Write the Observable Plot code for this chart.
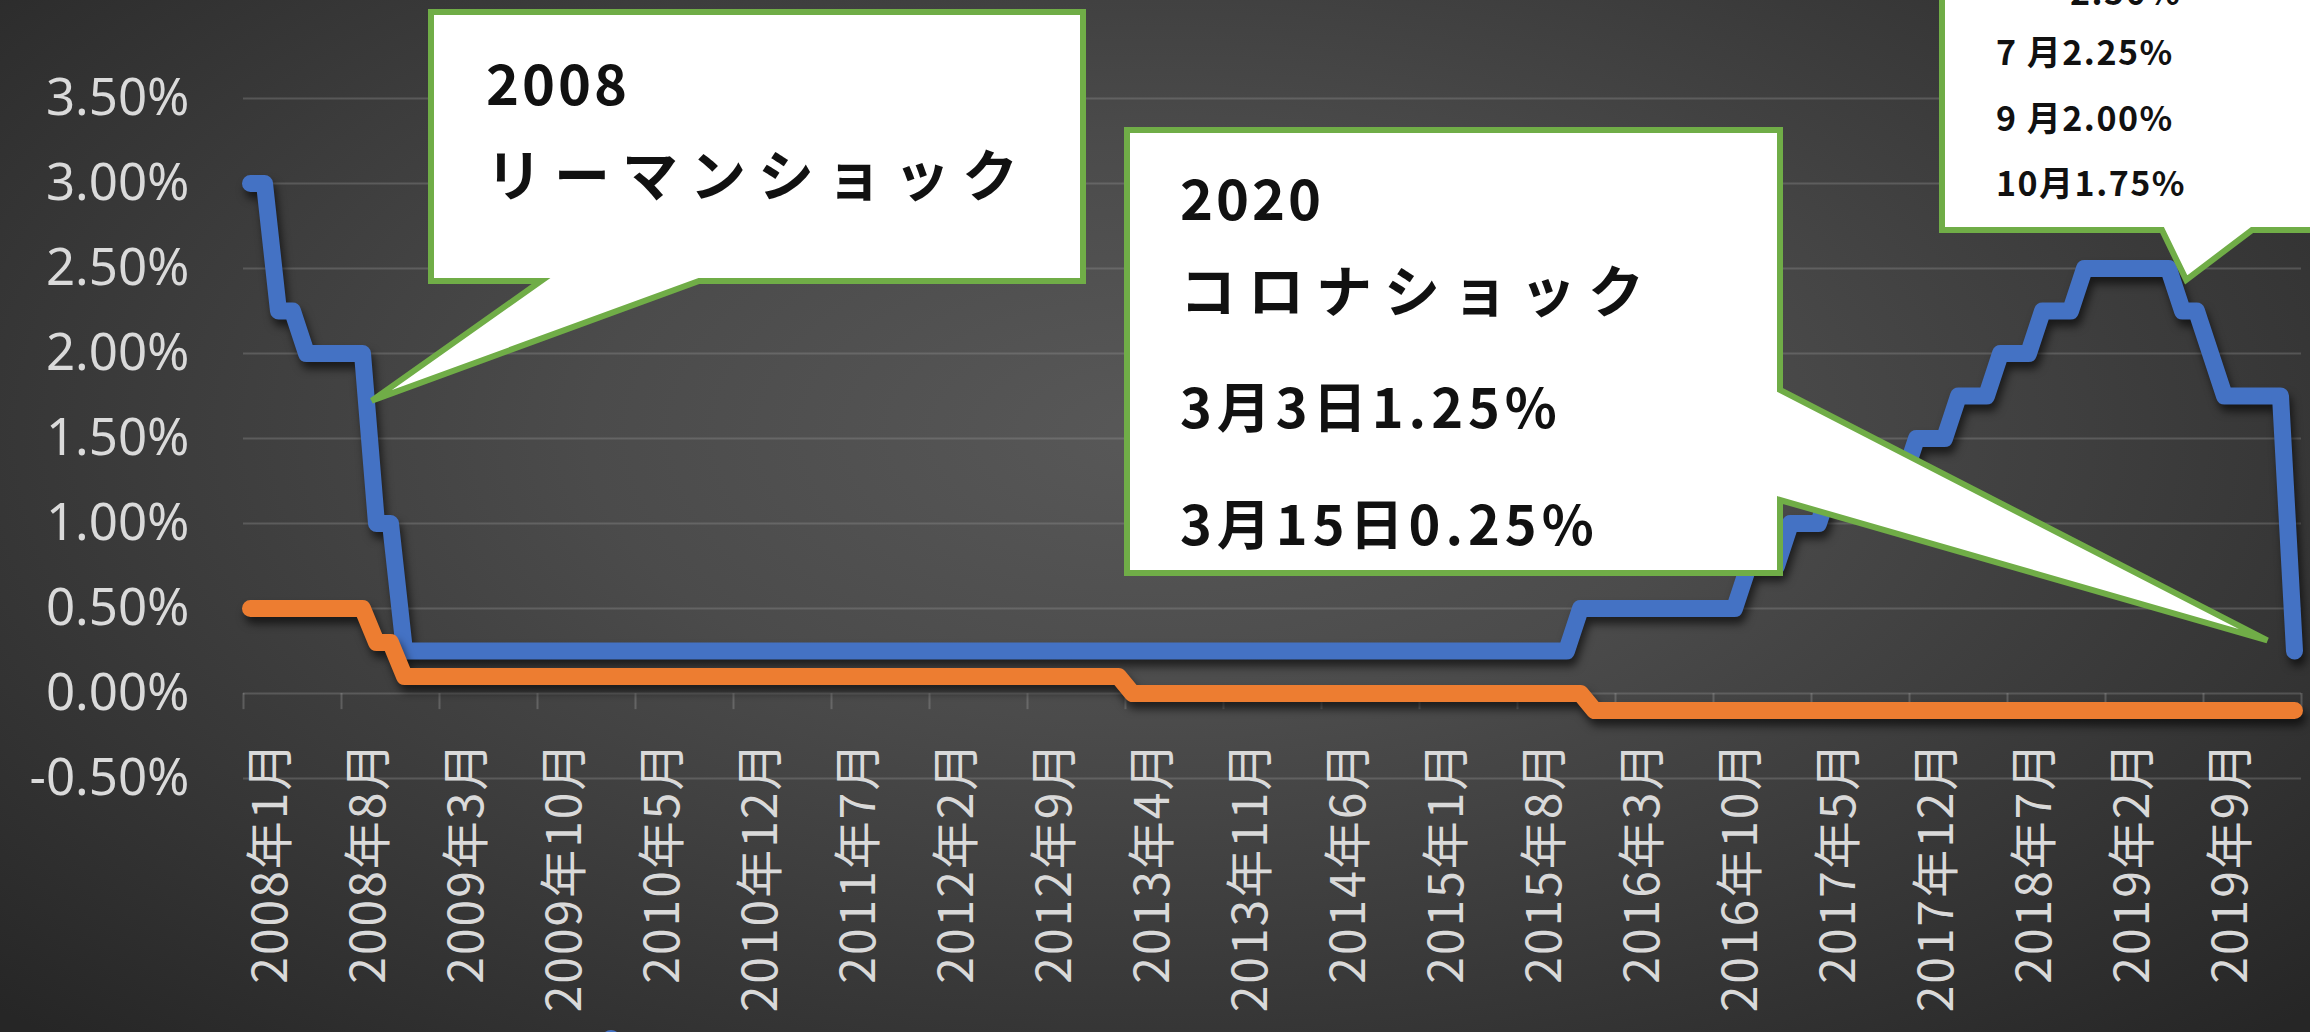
<!DOCTYPE html>
<html>
<head>
<meta charset="utf-8">
<script src="https://cdn.jsdelivr.net/npm/d3@7"></script>
<script src="https://cdn.jsdelivr.net/npm/@observablehq/plot@0.6"></script>
<style>
  html, body { margin: 0; padding: 0; width: 2310px; height: 1032px; overflow: hidden; }
  body {
    background: radial-gradient(ellipse 70% 80% at 50% 42%, #585858 0%, #4b4b4b 35%, #363636 72%, #262626 100%);
  }
  #chart svg { display: block; }
  .shadow { filter: drop-shadow(3px 7px 4px rgba(0,0,0,0.6)); }
  .xlab text { letter-spacing: 2px; }
  .callout text { font-family: "Noto Sans CJK JP", sans-serif; font-weight: 700; fill: #111; text-anchor: start; }
</style>
</head>
<body>
<div id="chart"></div>
<script>
// ---- data (monthly, 2008年1月 … 2020年3月) ----
// US policy rate (upper bound), %
const usRate = [
  3.00, 3.00, 2.25, 2.25, 2.00, 2.00, 2.00, 2.00, 2.00, 1.00, 1.00, 0.25, // 2008
  0.25, 0.25, 0.25, 0.25, 0.25, 0.25, 0.25, 0.25, 0.25, 0.25, 0.25, 0.25, // 2009
  0.25, 0.25, 0.25, 0.25, 0.25, 0.25, 0.25, 0.25, 0.25, 0.25, 0.25, 0.25, // 2010
  0.25, 0.25, 0.25, 0.25, 0.25, 0.25, 0.25, 0.25, 0.25, 0.25, 0.25, 0.25, // 2011
  0.25, 0.25, 0.25, 0.25, 0.25, 0.25, 0.25, 0.25, 0.25, 0.25, 0.25, 0.25, // 2012
  0.25, 0.25, 0.25, 0.25, 0.25, 0.25, 0.25, 0.25, 0.25, 0.25, 0.25, 0.25, // 2013
  0.25, 0.25, 0.25, 0.25, 0.25, 0.25, 0.25, 0.25, 0.25, 0.25, 0.25, 0.25, // 2014
  0.25, 0.25, 0.25, 0.25, 0.25, 0.25, 0.25, 0.25, 0.25, 0.25, 0.25, 0.50, // 2015
  0.50, 0.50, 0.50, 0.50, 0.50, 0.50, 0.50, 0.50, 0.50, 0.50, 0.50, 0.75, // 2016
  0.75, 0.75, 1.00, 1.00, 1.00, 1.25, 1.25, 1.25, 1.25, 1.25, 1.25, 1.50, // 2017
  1.50, 1.50, 1.75, 1.75, 1.75, 2.00, 2.00, 2.00, 2.25, 2.25, 2.25, 2.50, // 2018
  2.50, 2.50, 2.50, 2.50, 2.50, 2.50, 2.25, 2.25, 2.00, 1.75, 1.75, 1.75, // 2019
  1.75, 1.75, 0.25                                                        // 2020
];
// Japan policy rate, %
const jpRate = [
  0.50, 0.50, 0.50, 0.50, 0.50, 0.50, 0.50, 0.50, 0.50, 0.30, 0.30, 0.10, // 2008
  0.10, 0.10, 0.10, 0.10, 0.10, 0.10, 0.10, 0.10, 0.10, 0.10, 0.10, 0.10, // 2009
  0.10, 0.10, 0.10, 0.10, 0.10, 0.10, 0.10, 0.10, 0.10, 0.10, 0.10, 0.10, // 2010
  0.10, 0.10, 0.10, 0.10, 0.10, 0.10, 0.10, 0.10, 0.10, 0.10, 0.10, 0.10, // 2011
  0.10, 0.10, 0.10, 0.10, 0.10, 0.10, 0.10, 0.10, 0.10, 0.10, 0.10, 0.10, // 2012
  0.10, 0.10, 0.10, 0.00, 0.00, 0.00, 0.00, 0.00, 0.00, 0.00, 0.00, 0.00, // 2013
  0.00, 0.00, 0.00, 0.00, 0.00, 0.00, 0.00, 0.00, 0.00, 0.00, 0.00, 0.00, // 2014
  0.00, 0.00, 0.00, 0.00, 0.00, 0.00, 0.00, 0.00, 0.00, 0.00, 0.00, 0.00, // 2015
  -0.10, -0.10, -0.10, -0.10, -0.10, -0.10, -0.10, -0.10, -0.10, -0.10, -0.10, -0.10, // 2016
  -0.10, -0.10, -0.10, -0.10, -0.10, -0.10, -0.10, -0.10, -0.10, -0.10, -0.10, -0.10, // 2017
  -0.10, -0.10, -0.10, -0.10, -0.10, -0.10, -0.10, -0.10, -0.10, -0.10, -0.10, -0.10, // 2018
  -0.10, -0.10, -0.10, -0.10, -0.10, -0.10, -0.10, -0.10, -0.10, -0.10, -0.10, -0.10, // 2019
  -0.10, -0.10, -0.10                                                                  // 2020
];
// category-axis labels (every 7th month) and their month index
const xTickIndex = [0, 7, 14, 21, 28, 35, 42, 49, 56, 63, 70, 77, 84, 91, 98, 105, 112, 119, 126, 133, 140];
const xTickLabels = ["2008年1月","2008年8月","2009年3月","2009年10月","2010年5月","2010年12月","2011年7月",
  "2012年2月","2012年9月","2013年4月","2013年11月","2014年6月","2015年1月","2015年8月","2016年3月",
  "2016年10月","2017年5月","2017年12月","2018年7月","2019年2月","2019年9月"];
const yTicks = [-0.5, 0, 0.5, 1.0, 1.5, 2.0, 2.5, 3.0, 3.5];
const seriesColors = {us: "#4472c4", jp: "#ed7d31"};

// callout annotations (text), tip anchored in data coordinates
const calloutTexts = [
  ["2008", "リーマンショック"],
  ["2020", "コロナショック", "3月3日1.25%", "3月15日0.25%"],
  ["2.50%", "7 月2.25%", "9 月2.00%", "10月1.75%"]
];
const calloutTips = [[8.7, 1.72], [144.1, 0.31], [138.3, 2.43]];

// ---- tables built from the arrays ----
const usRows = usRate.map((v, i) => ({i, v}));
const jpRows = jpRate.map((v, i) => ({i, v}));
const tickRows = xTickIndex.map((i, k) => ({i, label: xTickLabels[k]}));
const boundaries = d3.range(xTickIndex.length + 1).map(k => k * 7 - 0.5);

const chart = Plot.plot({
  width: 2310,
  height: 1032,
  marginLeft: 243,
  marginRight: 9,
  marginTop: 98,
  marginBottom: 254,
  style: {background: "transparent", overflow: "visible"},
  x: {domain: [-0.5, usRate.length - 0.5], axis: null},
  y: {domain: [-0.5, 3.5], axis: null},
  marks: [
    Plot.gridY(yTicks, {stroke: "#a0a0a0", strokeOpacity: 0.3, strokeWidth: 2}),
    Plot.ruleX(boundaries, {x: d => d, y1: 0, y2: -0.095, stroke: "#a0a0a0", strokeOpacity: 0.35, strokeWidth: 2}),
    Plot.axisY(yTicks, {
      tickSize: 0, tickPadding: 54, tickFormat: d => d.toFixed(2) + "%",
      fontSize: 51, fill: "#dadada", fontFamily: "'Noto Sans', sans-serif",
      label: null
    }),
    Plot.line(usRows, {x: "i", y: "v", stroke: seriesColors.us, strokeWidth: 17,
      strokeLinejoin: "round", strokeLinecap: "round", className: "shadow"}),
    Plot.line(jpRows, {x: "i", y: "v", stroke: seriesColors.jp, strokeWidth: 17,
      strokeLinejoin: "round", strokeLinecap: "round", className: "shadow"}),
    Plot.text(tickRows, {
      x: "i", frameAnchor: "bottom", text: "label", rotate: -90, textAnchor: "end",
      dx: 36, dy: -38, fontSize: 48, fill: "#d9d9d9",
      fontFamily: "'Noto Sans CJK JP', sans-serif", className: "xlab"
    })
  ]
});
document.getElementById("chart").append(chart);

// ---- callouts (speech bubbles), drawn over the plot ----
const sx = chart.scale("x"), sy = chart.scale("y");
const svg = d3.select(chart);
const layouts = [
  {box: [431, 12, 1083, 281], side: "bottom", wedge: [541, 699],
   lines: [[486, 105, 56, 3], [486, 196, 56, 12]]},
  {box: [1127, 130, 1780, 573], side: "right", wedge: [390, 500],
   lines: [[1180, 220, 56, 3], [1180, 312, 56, 12], [1180, 428, 54, 5], [1180, 545, 54, 5]]},
  {box: [1942, -60, 2340, 230], side: "bottom", wedge: [2162, 2252],
   lines: [[2070, 5, 34, 1.5], [1996, 65, 34, 1.5], [1996, 131, 34, 1.5], [1996, 196, 34, 1.5]]}
];
layouts.forEach((L, k) => {
  const [x0, y0, x1, y1] = L.box;
  const tx = sx.apply(calloutTips[k][0]), ty = sy.apply(calloutTips[k][1]);
  let pts;
  if (L.side === "bottom") {
    pts = [[x0, y0], [x1, y0], [x1, y1], [L.wedge[1], y1], [tx, ty], [L.wedge[0], y1], [x0, y1]];
  } else {
    pts = [[x0, y0], [x1, y0], [x1, L.wedge[0]], [tx, ty], [x1, L.wedge[1]], [x1, y1], [x0, y1]];
  }
  const g = svg.append("g").attr("class", "callout").attr("text-anchor", "start");
  g.append("path")
    .attr("d", "M" + pts.map(p => p.join(",")).join("L") + "Z")
    .attr("fill", "#ffffff")
    .attr("stroke", "#70ad47")
    .attr("stroke-width", 6)
    .attr("stroke-linejoin", "miter");
  calloutTexts[k].forEach((t, j) => {
    const [lx, ly, fs, ls] = L.lines[j];
    g.append("text").attr("x", lx).attr("y", ly).attr("text-anchor", "start")
      .attr("font-size", fs).style("letter-spacing", ls + "px").text(t);
  });
});
// legend marker fragment at the bottom edge
svg.append("circle").attr("cx", 611).attr("cy", 1040).attr("r", 10).attr("fill", seriesColors.us);
</script>
</body>
</html>
